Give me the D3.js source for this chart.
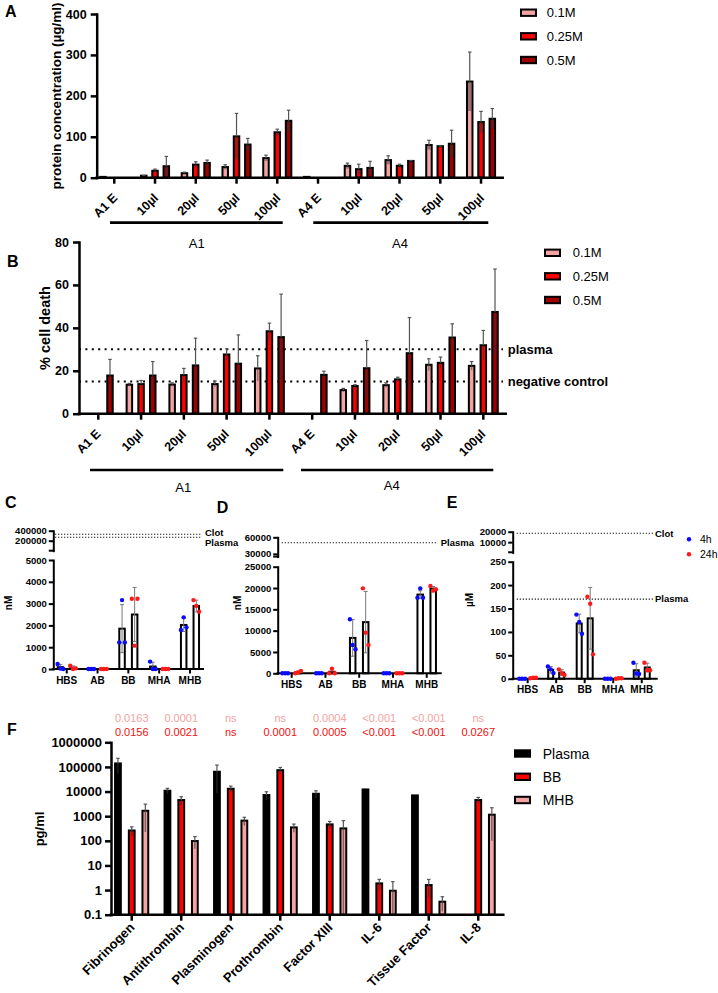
<!DOCTYPE html>
<html><head><meta charset="utf-8">
<script src="https://cdn.jsdelivr.net/npm/d3@7"></script>
<style>
body{margin:0;background:#fff;}
svg{display:block;font-family:"Liberation Sans",Arial,sans-serif;}
</style></head><body>
<svg id="fig" width="718" height="993"></svg>
<script>
// ================= DATA =================
const abGroups = ["A1 E","10µl","20µl","50µl","100µl","A4 E","10µl","20µl","50µl","100µl"];
const abBrackets = ["A1","A4"];
const concSeries = ["0.1M","0.25M","0.5M"];

// Panel A: protein concentration (µg/ml), mean and SD
const proteinMean01  = [2, 5, 11, 26, 48, 2, 29, 43, 80, 235];
const proteinSd01    = [0, 0.5, 2.6, 5.6, 7, 0, 6.7, 10.5, 11.4, 72];
const proteinMean025 = [null, 17, 32, 101, 111, null, 21, 29, 77, 136];
const proteinSd025   = [null, 4, 7, 56, 7.5, null, 12, 4, 0.5, 26];
const proteinMean05  = [null, 28, 36, 81, 139, null, 24, 41, 83, 144];
const proteinSd05    = [null, 24, 7, 15, 26, null, 16, 0.5, 33, 25];
const proteinTicks = [0, 100, 200, 300, 400];

// Panel B: % cell death
const deathMean01  = [null, 13.5, 13.6, 13.8, 21.1, null, 11, 13.3, 22.8, 22.3];
const deathSd01    = [null, 0.6, 0.8, 1.4, 5.9, null, 0.8, 1.1, 2.8, 2.0];
const deathMean025 = [null, 13.8, 18, 27.6, 38.4, null, 12.9, 16, 23.7, 31.9];
const deathSd025   = [null, 1.7, 3.1, 2.6, 3.8, null, 0.6, 1.0, 2.7, 6.9];
const deathMean05  = [17.8, 17.8, 22.5, 23.3, 35.7, 18.1, 21.2, 28.2, 35.5, 47.4];
const deathSd05    = [7.5, 6.5, 12.7, 13.4, 20, 1.7, 12.9, 16.6, 6.4, 20];
const deathTicks = [0, 20, 40, 60, 80];
const deathRefValues = [30, 15];
const deathRefLabels = ["plasma", "negative control"];

// Panels C, D, E
const assayCats = ["HBS","AB","BB","MHA","MHB"];
const timeSeries = ["4h","24h"];

const cMean4h  = [83, 0, 1850, 113, 2020];
const cSd4h    = [130, 0, 1100, 195, 300];
const cMean24h = [60, 0, 2500, 0, 2890];
const cSd24h   = [80, 0, 1240, 0, 270];
const cPts4h   = [[20,230,0],[0,0,0],[3160,1220,1220],[0,340,0],[2370,1790,1910]];
const cPts24h  = [[0,150,30],[0,0,0],[1070,3220,3220],[0,0,0],[2890,3160,2630]];
const cRefValues = [328000, 268000];
const cRefLabels = ["Clot", "Plasma"];
const cTicksLow = [0, 1000, 2000, 3000, 4000, 5000];
const cTicksHigh = [200000, 400000];

const dMean4h  = [0, 0, 8300, 0, 18460];
const dSd4h    = [0, 0, 4300, 0, 900];
const dMean24h = [250, 360, 12000, 0, 19850];
const dSd24h   = [280, 630, 7200, 0, 500];
const dPts4h   = [[0,0,0],[0,0,0],[6640,12660,5630],[0,0,0],[19920,17730,17730]];
const dPts24h  = [[200,0,550],[1090,0,0],[9530,19920,6640],[0,0,0],[19380,20470,19690]];
const dRefValues = [50000];
const dRefLabels = ["Plasma"];
const dTicksLow = [0, 5000, 10000, 15000, 20000, 25000];
const dTicksHigh = [30000, 60000];

const eMean4h  = [0, 19, 118, 0, 18];
const eSd4h    = [0, 7, 20, 0, 14];
const eMean24h = [1.5, 13, 129, 1, 24];
const eSd24h   = [0.5, 6, 66, 0.5, 9];
const ePts4h   = [[0,0,0],[20,26,12],[121,137,96],[0,0,0],[11,34,10]];
const ePts24h  = [[2,1,2],[12,20,8],[160,175,52],[1,0,1],[18,34,18]];
const eRefValues = [18500, 170];
const eRefLabels = ["Clot", "Plasma"];
const eTicksLow = [0, 50, 100, 150, 200, 250];
const eTicksHigh = [10000, 20000];

// Panel F: pg/ml (log)
const proteinsF = ["Fibrinogen","Antithrombin","Plasminogen","Prothrombin","Factor XIII","IL-6","Tissue Factor","IL-8"];
const seriesF = ["Plasma","BB","MHB"];
const plasmaF   = [139000, 10800, 63800, 7210, 8130, 12200, 6990, null];
const plasmaFSd = [85000, 2700, 55000, 2600, 2600, 0, 0, null];
const bbF       = [263, 4520, 13000, 74000, 465, 1.87, 1.6, 4520];
const bbFSd     = [107, 1650, 3600, 21000, 150, 0.85, 1.1, 1270];
const mhbF      = [1660, 98, 661, 351, 319, 0.94, 0.337, 1150];
const mhbFSd    = [1430, 50, 240, 127, 342, 1.25, 0.2, 1050];
const fTicks = [0.1, 1, 10, 100, 1000, 10000, 100000, 1000000];
const pValuesMHB = ["0.0163","0.0001","ns","ns","0.0004","<0.001","<0.001","ns"];
const pValuesBB  = ["0.0156","0.0021","ns","0.0001","0.0005","<0.001","<0.001","0.0267"];

// ================= DRAWING =================
const FONT = '"Liberation Sans", Arial, sans-serif';
const PINK = "#f4a3a3", RED = "#ff0000", DARK = "#a00000";
const BLUE_DOT = "#0a0aff", RED_DOT = "#ff1a1a";
const svg = d3.select("#fig");
svg.append("rect").attr("width", 718).attr("height", 993).attr("fill", "#fff");

function label(x, y, s, size, weight, anchor, fill, rotate) {
  const t = svg.append("text").attr("font-size", size).attr("font-weight", weight || "normal")
    .attr("text-anchor", anchor || "start").attr("fill", fill || "#000").text(s);
  if (rotate) t.attr("transform", `translate(${x},${y}) rotate(${rotate})`);
  else t.attr("x", x).attr("y", y);
  return t;
}

function yAxis(scale, x, ticks, fmt, size, sw, tickLen, pad) {
  const ax = d3.axisLeft(scale).tickValues(ticks).tickFormat(fmt)
    .tickSize(tickLen).tickPadding(pad).tickSizeOuter(0);
  const a = svg.append("g").attr("transform", `translate(${x},0)`).call(ax);
  a.attr("font-family", FONT).attr("font-size", size).attr("font-weight", "bold");
  a.select(".domain").attr("stroke-width", sw).attr("stroke-linecap", "square");
  a.selectAll(".tick line").attr("stroke-width", sw);
  a.selectAll("text").attr("fill", "#000");
  return a;
}

function xAxisBand(scale, y, x1, x2, fmt, size, sw, tickLen, rotated, adx, ady) {
  svg.append("line").attr("x1", x1).attr("x2", x2).attr("y1", y).attr("y2", y)
    .attr("stroke", "#000").attr("stroke-width", sw).attr("stroke-linecap", "square");
  const ax = d3.axisBottom(scale).tickFormat(fmt).tickSize(tickLen).tickSizeOuter(0).tickPadding(3);
  const a = svg.append("g").attr("transform", `translate(0,${y})`).call(ax);
  a.select(".domain").remove();
  a.attr("font-family", FONT).attr("font-size", size).attr("font-weight", "bold");
  a.selectAll(".tick line").attr("stroke-width", sw);
  a.selectAll("text").attr("fill", "#000");
  if (rotated) {
    a.selectAll("text").attr("x", null).attr("y", null).attr("dy", null)
      .attr("text-anchor", "end")
      .attr("transform", `translate(${adx},${ady}) rotate(-45)`);
  }
  return a;
}

function errBar(cx, yMean, yHi, yLo, capW, innerW, innerOp) {
  if (yHi != null) {
    svg.append("line").attr("x1", cx).attr("x2", cx).attr("y1", yMean).attr("y2", yHi)
      .attr("stroke", "#555").attr("stroke-width", 1.2);
    svg.append("line").attr("x1", cx - capW / 2).attr("x2", cx + capW / 2).attr("y1", yHi).attr("y2", yHi)
      .attr("stroke", "#555").attr("stroke-width", 1.2);
  }
  if (yLo != null && yLo > yMean + 0.5) {
    svg.append("line").attr("x1", cx).attr("x2", cx).attr("y1", yMean).attr("y2", yLo)
      .attr("stroke", "#333").attr("stroke-width", innerW).attr("stroke-opacity", innerOp);
  }
}

// ---------- grouped bar panel (A, B, F) ----------
function barPanel(cfg) {
  const x = d3.scaleBand().domain(d3.range(cfg.cats.length)).range(cfg.xRange);
  const y = cfg.y;
  const cx = i => x(i) + x.bandwidth() / 2;
  cfg.series.forEach((s, si) => {
    s.mean.forEach((m, i) => {
      if (m == null) return;
      const bx = cx(i) + cfg.offsets[si];
      const sd = s.sd[i] || 0;
      svg.append("rect").attr("x", bx - cfg.bw / 2).attr("y", y(m))
        .attr("width", cfg.bw).attr("height", Math.max(0, y(cfg.base) - y(m)))
        .attr("fill", s.color).attr("stroke", "#000").attr("stroke-width", 2);
      if (sd > 0) {
        const lo = Math.max(m - sd, cfg.base);
        errBar(bx, y(m), y(m + sd), y(lo), cfg.capW, cfg.innerW, cfg.innerOp);
      }
    });
  });
  yAxis(y, cfg.axisX, cfg.yTicks, cfg.yFmt, cfg.yTickSize, 2.5, 6, cfg.yPad);
  xAxisBand(x, cfg.axisY, cfg.axisX, cfg.xEnd, i => cfg.cats[i], cfg.xTickSize, 2.5, 6, true, cfg.labDx, cfg.labDy);
  return { x, cx };
}

function legendRects(x, ys, names, colors, size, tx) {
  names.forEach((n, i) => {
    svg.append("rect").attr("x", x + 1).attr("y", ys[i] - 3.2).attr("width", 15).attr("height", 6.4)
      .attr("fill", colors[i]).attr("stroke", "#000").attr("stroke-width", 2);
    label(tx, ys[i] + size * 0.36, n, size, "normal");
  });
}

// ===== Panel A =====
label(5, 17, "A", 16, "bold");
const yA = d3.scaleLinear().domain([0, 400]).range([177.7, 14]);
barPanel({
  cats: abGroups, xRange: [93.9, 501.4], y: yA, base: 0, axisX: 96.7, axisY: 177.7, xEnd: 502.7,
  offsets: [-11.3, 0, 11.3], bw: 5.5, capW: 3.5, innerW: 3.5, innerOp: 0.45,
  yTicks: proteinTicks, yFmt: d3.format("d"), yTickSize: 12.5, yPad: 4, xTickSize: 12.5, labDx: 4, labDy: 21,
  series: [
    { mean: proteinMean01, sd: proteinSd01, color: PINK },
    { mean: proteinMean025, sd: proteinSd025, color: RED },
    { mean: proteinMean05, sd: proteinSd05, color: DARK }]
});
label(61, 96, "protein concentration (µg/ml)", 13.5, "bold", "middle", "#000", -90);
svg.append("line").attr("x1", 110).attr("x2", 282.7).attr("y1", 222.7).attr("y2", 222.7).attr("stroke", "#000").attr("stroke-width", 2.7);
svg.append("line").attr("x1", 313.3).attr("x2", 488.3).attr("y1", 222.7).attr("y2", 222.7).attr("stroke", "#000").attr("stroke-width", 2.7);
label(196.7, 248, abBrackets[0], 13, "normal", "middle");
label(400, 248, abBrackets[1], 13, "normal", "middle");
legendRects(520, [12.7, 36.3, 60], concSeries, [PINK, RED, DARK], 13, 546.7);

// ===== Panel B =====
label(7, 267, "B", 16, "bold");
const yB = d3.scaleLinear().domain([0, 80]).range([413.7, 242]);
deathRefValues.forEach((v, k) => {
  svg.append("line").attr("x1", 79).attr("x2", 503).attr("y1", yB(v)).attr("y2", yB(v))
    .attr("stroke", "#000").attr("stroke-width", 2).attr("stroke-dasharray", "2,4.4");
  label(507.7, yB(v) + 4.6, deathRefLabels[k], 13, "bold");
});
barPanel({
  cats: abGroups, xRange: [76.9, 504.7], y: yB, base: 0, axisX: 79, axisY: 413.7, xEnd: 505.7,
  offsets: [-11.7, 0, 11.7], bw: 5.5, capW: 3.5, innerW: 1.3, innerOp: 0.5,
  yTicks: deathTicks, yFmt: d3.format("d"), yTickSize: 12.5, yPad: 4, xTickSize: 12.5, labDx: 3, labDy: 21,
  series: [
    { mean: deathMean01, sd: deathSd01, color: PINK },
    { mean: deathMean025, sd: deathSd025, color: RED },
    { mean: deathMean05, sd: deathSd05, color: DARK }]
});
label(50, 328, "% cell death", 14.5, "bold", "middle", "#000", -90);
svg.append("line").attr("x1", 90).attr("x2", 283.3).attr("y1", 470).attr("y2", 470).attr("stroke", "#000").attr("stroke-width", 2.7);
svg.append("line").attr("x1", 301).attr("x2", 493.3).attr("y1", 470).attr("y2", 470).attr("stroke", "#000").attr("stroke-width", 2.7);
label(183.3, 491.5, abBrackets[0], 13, "normal", "middle");
label(391.7, 490, abBrackets[1], 13, "normal", "middle");
legendRects(544, [252.8, 276.3, 300], concSeries, [PINK, RED, DARK], 13, 572.7);

// ---------- broken-axis dot panels (C, D, E) ----------
function dotPanel(cfg) {
  const x = d3.scaleBand().domain(assayCats).range(cfg.xRange);
  const yLow = d3.scaleLinear().domain(cfg.lowDomain).range(cfg.lowRange);
  const yUp = d3.scaleLinear().domain(cfg.upDomain).range(cfg.upRange);
  const yv = v => v > cfg.lowDomain[1] ? yUp(v) : yLow(v);
  const cx = c => x(c) + x.bandwidth() / 2;
  cfg.refs.forEach((v, k) => {
    svg.append("line").attr("x1", cfg.refX1).attr("x2", cfg.refX2).attr("y1", yv(v)).attr("y2", yv(v))
      .attr("stroke", "#222").attr("stroke-width", 1.1).attr("stroke-dasharray", "1.3,1.7");
    label(cfg.refLabelX, yv(v) + 3.3 + (cfg.refLabelDy ? cfg.refLabelDy[k] : 0), cfg.refLabels[k], 9.5, "bold");
  });
  const series = [
    { mean: cfg.mean4h, sd: cfg.sd4h, pts: cfg.pts4h, color: BLUE_DOT, off: -cfg.off },
    { mean: cfg.mean24h, sd: cfg.sd24h, pts: cfg.pts24h, color: RED_DOT, off: cfg.off }];
  series.forEach(s => {
    assayCats.forEach((c, i) => {
      const bx = cx(c) + s.off, m = s.mean[i];
      svg.append("rect").attr("x", bx - cfg.bw / 2).attr("y", yLow(m)).attr("width", cfg.bw)
        .attr("height", Math.max(0, yLow(0) - yLow(m)))
        .attr("fill", "#fff").attr("stroke", "#000").attr("stroke-width", 2);
    });
  });
  series.forEach(s => {
    assayCats.forEach((c, i) => {
      const bx = cx(c) + s.off, m = s.mean[i], sd = s.sd[i];
      if (sd > 0) {
        const yh = yLow(m + sd), yl = yLow(Math.max(0, m - sd));
        svg.append("line").attr("x1", bx).attr("x2", bx).attr("y1", yh).attr("y2", yl).attr("stroke", "#777").attr("stroke-width", 1);
        [yh, yl].forEach(yy => svg.append("line").attr("x1", bx - 2).attr("x2", bx + 2).attr("y1", yy).attr("y2", yy).attr("stroke", "#777").attr("stroke-width", 1));
      }
    });
  });
  yAxis(yLow, cfg.axisX, cfg.ticksLow, d3.format("d"), 9.5, 2, 4.5, 2);
  yAxis(yUp, cfg.axisX, cfg.ticksHigh, d3.format("d"), 9.5, 2, 4.5, 2);
  svg.append("line").attr("x1", cfg.axisX - 4.5).attr("x2", cfg.axisX + 1).attr("y1", cfg.upRange[0]).attr("y2", cfg.upRange[0])
    .attr("stroke", "#000").attr("stroke-width", 2);
  xAxisBand(x, cfg.lowRange[0], cfg.axisX, cfg.xEnd, d => d, 10, 2, 4.5, false);
  const jit = [0, -2.8, 2.8];
  series.forEach(s => {
    assayCats.forEach((c, i) => {
      s.pts[i].forEach((p, j) => {
        svg.append("circle").attr("cx", cx(c) + s.off + jit[j]).attr("cy", yLow(p)).attr("r", 2.2).attr("fill", s.color);
      });
    });
  });
}

// ===== Panel C =====
label(5, 508, "C", 16, "bold");
dotPanel({
  xRange: [51.3, 205.4], axisX: 53.3, xEnd: 203,
  lowDomain: [0, 5000], lowRange: [669, 560], upDomain: [0, 400000], upRange: [550.7, 530.7],
  ticksLow: cTicksLow, ticksHigh: cTicksHigh, off: 6.3, bw: 5.5,
  refs: cRefValues, refLabels: cRefLabels, refX1: 55, refX2: 201.7, refLabelX: 205, refLabelDy: [-1.6, 5],
  mean4h: cMean4h, sd4h: cSd4h, pts4h: cPts4h, mean24h: cMean24h, sd24h: cSd24h, pts24h: cPts24h
});
label(11.5, 603, "nM", 10, "bold", "middle", "#000", -90);

// ===== Panel D =====
label(216.7, 513, "D", 16, "bold");
dotPanel({
  xRange: [274.8, 443.6], axisX: 277.7, xEnd: 440.7,
  lowDomain: [0, 25000], lowRange: [673.3, 566.7], upDomain: [25000, 60000], upRange: [556.6, 537.3],
  ticksLow: dTicksLow, ticksHigh: dTicksHigh, off: 6.5, bw: 5.5,
  refs: dRefValues, refLabels: dRefLabels, refX1: 281.7, refX2: 436.7, refLabelX: 440.7,
  mean4h: dMean4h, sd4h: dSd4h, pts4h: dPts4h, mean24h: dMean24h, sd24h: dSd24h, pts24h: dPts24h
});
label(240.5, 603, "nM", 10, "bold", "middle", "#000", -90);

// ===== Panel E =====
label(446.7, 508, "E", 16, "bold");
dotPanel({
  xRange: [513.4, 656], axisX: 512.7, xEnd: 656.7,
  lowDomain: [0, 250], lowRange: [678.7, 561.7], upDomain: [250, 20000], upRange: [552.3, 531.7],
  ticksLow: eTicksLow, ticksHigh: eTicksHigh, off: 5.5, bw: 5,
  refs: eRefValues, refLabels: eRefLabels, refX1: 516.7, refX2: 653.3, refLabelX: 655,
  mean4h: eMean4h, sd4h: eSd4h, pts4h: ePts4h, mean24h: eMean24h, sd24h: eSd24h, pts24h: ePts24h
});
label(473.3, 600, "µM", 10, "bold", "middle", "#000", -90);
[BLUE_DOT, RED_DOT].forEach((c, i) => {
  const yy = 539.3 + i * 15;
  svg.append("circle").attr("cx", 689).attr("cy", yy).attr("r", 2.2).attr("fill", c);
  label(700, yy + 3.8, timeSeries[i], 10.5, "normal");
});

// ===== Panel F =====
label(7, 735, "F", 16, "bold");
const yF = d3.scaleLog().domain([0.1, 1000000]).range([914.7, 742.3]);
const pF = barPanel({
  cats: proteinsF, xRange: [107, 503], y: yF, base: 0.1, axisX: 111, axisY: 914.7, xEnd: 503.3,
  offsets: [-13.8, 0, 13.6], bw: 5.8, capW: 3.5, innerW: 1.5, innerOp: 0.6,
  yTicks: fTicks, yFmt: d => d < 1 ? "0.1" : String(d), yTickSize: 13, yPad: 3, xTickSize: 13, labDx: 3.5, labDy: 13.5,
  series: [
    { mean: plasmaF, sd: plasmaFSd, color: "#000" },
    { mean: bbF, sd: bbFSd, color: RED },
    { mean: mhbF, sd: mhbFSd, color: PINK }]
});
label(44, 829, "pg/ml", 13, "bold", "middle", "#000", -90);
proteinsF.forEach((p, i) => {
  const c = pF.cx(i);
  label(c, 722.3, pValuesMHB[i], 11, "normal", "middle", "#f4a3a3");
  label(c, 736.3, pValuesBB[i], 11, "normal", "middle", "#f01010");
});
legendRects(514, [753.5, 776.8, 800], seriesF, ["#000", RED, PINK], 14, 542.7);
</script>
</body></html>
